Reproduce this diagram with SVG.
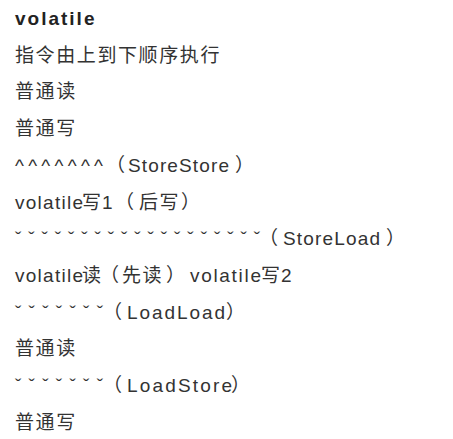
<svg xmlns="http://www.w3.org/2000/svg" width="453" height="439" viewBox="0 0 453 439">
<style>
text{font-family:"Liberation Sans","Noto Sans CJK SC",sans-serif;font-size:19px;fill:#333;letter-spacing:0}
.b{font-weight:bold;fill:#222;letter-spacing:2px}
.cj{letter-spacing:1.6px}
</style>
<rect width="453" height="439" fill="#fff"/>
<g id="l1"><text class="b" x="15" y="25">volatile</text></g>
<g id="l2"><text class="cj" x="15" y="61.7">指令由上到下顺序执行</text></g>
<g id="l3"><text class="cj" x="15" y="98.4">普通读</text></g>
<g id="l4"><text class="cj" x="15" y="135">普通写</text></g>
<g id="l5">
<text x="15" y="171.8" textLength="88" lengthAdjust="spacing">^^^^^^^</text>
<text x="106" y="171.8">（</text>
<text x="128" y="171.8" textLength="101" lengthAdjust="spacing">StoreStore</text>
<text x="235" y="171.8">）</text>
</g>
<g id="l6">
<text x="15" y="208.5" textLength="68" lengthAdjust="spacing">volatile</text>
<text x="82" y="208.5">写</text>
<text x="102" y="208.5">1</text>
<text x="115" y="208.5">（</text>
<text class="cj" x="139" y="208.5">后写</text>
<text x="181" y="208.5">）</text>
</g>
<g id="l7">
<text x="15" y="245.2" textLength="245" lengthAdjust="spacing">ˇˇˇˇˇˇˇˇˇˇˇˇˇˇˇˇˇˇˇ</text>
<text x="259" y="245.2">（</text>
<text x="283" y="245.2" textLength="97" lengthAdjust="spacing">StoreLoad</text>
<text x="386" y="245.2">）</text>
</g>
<g id="l8">
<text x="15" y="281.9" textLength="68" lengthAdjust="spacing">volatile</text>
<text x="82" y="281.9">读</text>
<text x="100" y="281.9">（</text>
<text class="cj" x="122" y="281.9">先读</text>
<text x="166" y="281.9">）</text>
<text x="190" y="281.9" textLength="71" lengthAdjust="spacing">volatile</text>
<text x="261" y="281.9">写</text>
<text x="281" y="281.9">2</text>
</g>
<g id="l9">
<text x="15" y="318.6" textLength="88" lengthAdjust="spacing">ˇˇˇˇˇˇˇ</text>
<text x="103" y="318.6">（</text>
<text x="127" y="318.6" textLength="98" lengthAdjust="spacing">LoadLoad</text>
<text x="226" y="318.6">）</text>
</g>
<g id="l10"><text class="cj" x="15" y="355.3">普通读</text></g>
<g id="l11">
<text x="15" y="392" textLength="88" lengthAdjust="spacing">ˇˇˇˇˇˇˇ</text>
<text x="103" y="392">（</text>
<text x="127" y="392" textLength="105" lengthAdjust="spacing">LoadStore</text>
<text x="231" y="392">）</text>
</g>
<g id="l12"><text class="cj" x="15" y="428.7">普通写</text></g>
</svg>
